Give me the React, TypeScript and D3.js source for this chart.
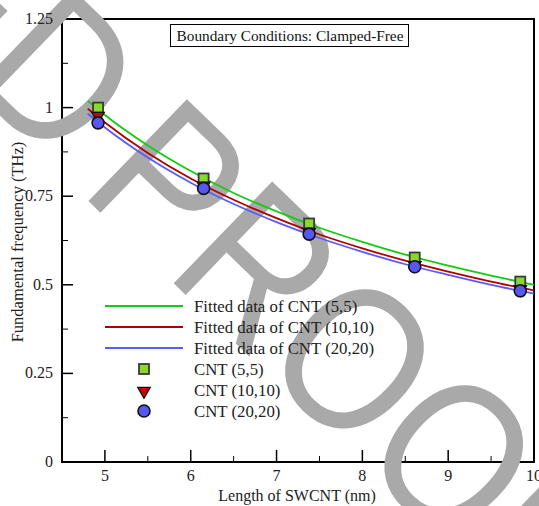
import React from 'react';
import * as d3 from 'd3';

// measured lengths (nm) and frequencies (THz)
const lengths = [4.92, 6.15, 7.38, 8.61, 9.84];
const cnt55 = [1.0, 0.8, 0.673, 0.577, 0.509];
const cnt1010 = [0.979, 0.782, 0.652, 0.558, 0.49];
const cnt2020 = [0.957, 0.772, 0.643, 0.551, 0.483];

// fitted curves, sampled along the length axis
const fitLengths = [4.8, 5.0, 5.5, 6.0, 6.5, 7.0, 7.5, 8.0, 8.5, 9.0, 9.5, 10.0];
const fit55 = [1.019, 0.979, 0.893, 0.821, 0.759, 0.707, 0.661, 0.621, 0.585, 0.554, 0.526, 0.5];
const fit1010 = [0.997, 0.958, 0.872, 0.8, 0.74, 0.688, 0.642, 0.603, 0.568, 0.537, 0.509, 0.484];
const fit2020 = [0.983, 0.944, 0.859, 0.788, 0.728, 0.677, 0.632, 0.593, 0.558, 0.528, 0.5, 0.475];

const xTicks = [5, 6, 7, 8, 9, 10];
const yTicks = [0, 0.25, 0.5, 0.75, 1, 1.25];
const yTickLabels = ['0', '0.25', '0.5', '0.75', '1', '1.25'];

const W = 539;
const H = 506;
const serif = 'Liberation Serif';

const App = () => {
  const x = d3.scaleLinear().domain([4.5, 10]).range([62, 534]);
  const y = d3.scaleLinear().domain([0, 1.25]).range([462, 19]);

  const line = d3
    .line<number>()
    .x((d, i) => x(fitLengths[i]))
    .y((d) => y(d))
    .curve(d3.curveMonotoneX);

  const minorX = d3.range(4.5, 10.01, 0.5).filter((v) => !xTicks.includes(v));
  const minorY = d3.range(0.125, 1.25, 0.25);

  const tri = d3.symbol().type(d3.symbolTriangle).size(70)();

  const fits = [
    { data: fit55, color: '#11cc11', label: 'Fitted data of CNT (5,5)' },
    { data: fit1010, color: '#b00000', label: 'Fitted data of CNT (10,10)' },
    { data: fit2020, color: '#5a5aff', label: 'Fitted data of CNT (20,20)' },
  ];

  const square = (cx: number, cy: number, k: string) => (
    <rect key={k} x={cx - 5} y={cy - 5} width={10} height={10} fill="#8ad82a" stroke="#3a3a3a" strokeWidth={1.8} />
  );
  const triangle = (cx: number, cy: number, k: string) => (
    <path key={k} d={tri || ''} transform={`translate(${cx},${cy + 1}) rotate(180)`} fill="#cc0000" stroke="#111" strokeWidth={1.2} />
  );
  const circle = (cx: number, cy: number, k: string) => (
    <circle key={k} cx={cx} cy={cy} r={6} fill="#5757f2" stroke="#111" strokeWidth={1.6} />
  );

  // watermark origin (baseline start of "PROOF")
  const wmX = 78;
  const wmY = 191;

  return (
    <svg width={W} height={H} style={{ position: 'absolute', left: 0, top: 0, background: '#fff' }}>
      <rect x={0} y={0} width={W} height={H} fill="#fff" />

      {/* frame */}
      <rect x={62} y={19} width={472} height={443} fill="none" stroke="#000" strokeWidth={2} />

      {/* ticks */}
      {xTicks.map((t) => (
        <line key={'xt' + t} x1={x(t)} x2={x(t)} y1={462} y2={450} stroke="#000" strokeWidth={1.5} />
      ))}
      {minorX.map((t) => (
        <line key={'xm' + t} x1={x(t)} x2={x(t)} y1={462} y2={456} stroke="#000" strokeWidth={1} />
      ))}
      {yTicks.map((t) => (
        <line key={'yt' + t} x1={62} x2={73} y1={y(t)} y2={y(t)} stroke="#000" strokeWidth={1.5} />
      ))}
      {minorY.map((t) => (
        <line key={'ym' + t} x1={62} x2={68} y1={y(t)} y2={y(t)} stroke="#000" strokeWidth={1} />
      ))}

      {/* watermark */}
      <g transform={`translate(${wmX},${wmY}) rotate(44) scale(0.862,1)`} fill="#a9a9a9" fontFamily="Liberation Sans" fontSize={206}>
        <text x={0} y={0}>PROOF</text>
        <text x={-36} y={0} textAnchor="end">UNCORRECTED</text>
      </g>

      {/* tick labels */}
      {xTicks.map((t) => (
        <text key={'xl' + t} x={x(t)} y={481} textAnchor="middle" fontFamily={serif} fontSize={16} fill="#222">
          {t}
        </text>
      ))}
      {yTicks.map((t, i) => (
        <text key={'yl' + t} x={53} y={y(t) + 5} textAnchor="end" fontFamily={serif} fontSize={16} fill="#222">
          {yTickLabels[i]}
        </text>
      ))}

      {/* axis titles */}
      <text x={297} y={501} textAnchor="middle" fontFamily={serif} fontSize={16} fill="#222">
        Length of SWCNT (nm)
      </text>
      <text
        transform="translate(23,242) rotate(-90)"
        textAnchor="middle"
        fontFamily={serif}
        fontSize={16.5}
        fill="#222"
      >
        Fundamental frequency (THz)
      </text>

      {/* title box */}
      <rect x={170.5} y={24.5} width={238} height={22} fill="#fff" stroke="#000" strokeWidth={1} />
      <text x={290} y={41} textAnchor="middle" fontFamily={serif} fontSize={15.3} fill="#111">
        Boundary Conditions: Clamped-Free
      </text>

      {/* fitted curves */}
      {fits.map((f) => (
        <path key={f.label} d={line(f.data) || ''} fill="none" stroke={f.color} strokeWidth={1.8} />
      ))}

      {/* data points */}
      {lengths.map((l, i) => square(x(l), y(cnt55[i]), 's' + i))}
      {lengths.map((l, i) => triangle(x(l), y(cnt1010[i]), 't' + i))}
      {lengths.map((l, i) => circle(x(l), y(cnt2020[i]), 'c' + i))}

      {/* legend */}
      {fits.map((f, i) => (
        <g key={'lg' + i}>
          <line x1={105} x2={183} y1={306 + i * 21} y2={306 + i * 21} stroke={f.color} strokeWidth={1.8} />
          <text x={194} y={312 + i * 21} fontFamily={serif} fontSize={16.8} fill="#222">
            {f.label}
          </text>
        </g>
      ))}
      {square(144, 369, 'ls')}
      {triangle(144, 390, 'lt')}
      {circle(144, 411, 'lc')}
      {['CNT (5,5)', 'CNT (10,10)', 'CNT (20,20)'].map((s, i) => (
        <text key={'lm' + i} x={194} y={375 + i * 21} fontFamily={serif} fontSize={16.8} fill="#222">
          {s}
        </text>
      ))}
    </svg>
  );
};

export default App;
